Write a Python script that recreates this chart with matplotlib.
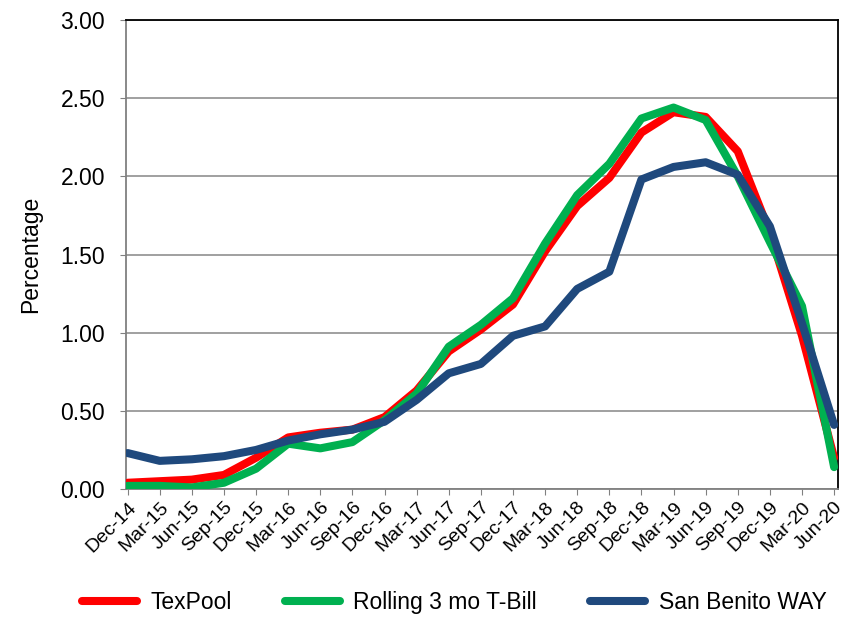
import numpy as np
import matplotlib.pyplot as plt

plt.rcParams['font.family'] = ['Liberation Sans', 'DejaVu Sans']

quarters = ['Dec-14', 'Mar-15', 'Jun-15', 'Sep-15', 'Dec-15', 'Mar-16', 'Jun-16',
            'Sep-16', 'Dec-16', 'Mar-17', 'Jun-17', 'Sep-17', 'Dec-17', 'Mar-18',
            'Jun-18', 'Sep-18', 'Dec-18', 'Mar-19', 'Jun-19', 'Sep-19', 'Dec-19',
            'Mar-20', 'Jun-20']

texpool = [0.04, 0.05, 0.06, 0.09, 0.20, 0.33, 0.36, 0.38, 0.46, 0.63, 0.88, 1.02,
           1.18, 1.52, 1.81, 1.99, 2.28, 2.41, 2.38, 2.16, 1.64, 0.98, 0.20]
tbill = [0.02, 0.02, 0.01, 0.04, 0.13, 0.29, 0.26, 0.30, 0.44, 0.61, 0.91, 1.05,
         1.22, 1.57, 1.88, 2.08, 2.37, 2.44, 2.36, 2.00, 1.58, 1.17, 0.14]
san_benito = [0.23, 0.18, 0.19, 0.21, 0.25, 0.31, 0.35, 0.38, 0.43, 0.57, 0.74, 0.80,
              0.98, 1.04, 1.28, 1.39, 1.98, 2.06, 2.09, 2.01, 1.68, 1.06, 0.41]

x = np.arange(len(quarters))

fig = plt.figure(figsize=(8.41, 6.19), dpi=100)
ax = fig.add_axes([0.1498, 0.21, 0.8466, 0.7577])

ax.plot(x, texpool, color='#ff0000', lw=5.8, label='TexPool', solid_capstyle='round', zorder=3)
ax.plot(x, tbill, color='#00b050', lw=5.8, label='Rolling 3 mo T-Bill', solid_capstyle='round', zorder=4)
ax.plot(x, san_benito, color='#1f497d', lw=5.8, label='San Benito WAY', solid_capstyle='round', zorder=5)

ax.set_xlim(-0.05, len(quarters) - 1 + 0.12)
ax.set_ylim(0, 3.0)
yt = np.arange(0, 3.01, 0.5)
ax.set_yticks(yt)
ax.set_yticklabels([f'{v:.2f}' for v in yt], fontsize=16.5)
ax.set_xticks(x)
ax.set_xticklabels(quarters, rotation=45, ha='right', rotation_mode='anchor', fontsize=14)
ax.tick_params(axis='x', length=4, color='#808080', pad=3)
ax.tick_params(axis='y', length=4, color='#808080', pad=11)

ax.grid(axis='y', color='#999999', lw=1.3)
ax.set_axisbelow(True)
for side in ['left', 'bottom']:
    ax.spines[side].set_color('#808080')
    ax.spines[side].set_linewidth(1.3)
for side in ['top', 'right']:
    ax.spines[side].set_color('black')
    ax.spines[side].set_linewidth(1.3)

ax.set_ylabel('Percentage', fontsize=16.5)
ax.yaxis.set_label_coords(-0.118, 0.5)

fig.legend(loc='center', bbox_to_anchor=(0.54, 0.027), ncol=3, frameon=False,
           fontsize=16.5, handlelength=2.4, handletextpad=0.6, columnspacing=2.3)

fig.savefig('out.png', dpi=100)
